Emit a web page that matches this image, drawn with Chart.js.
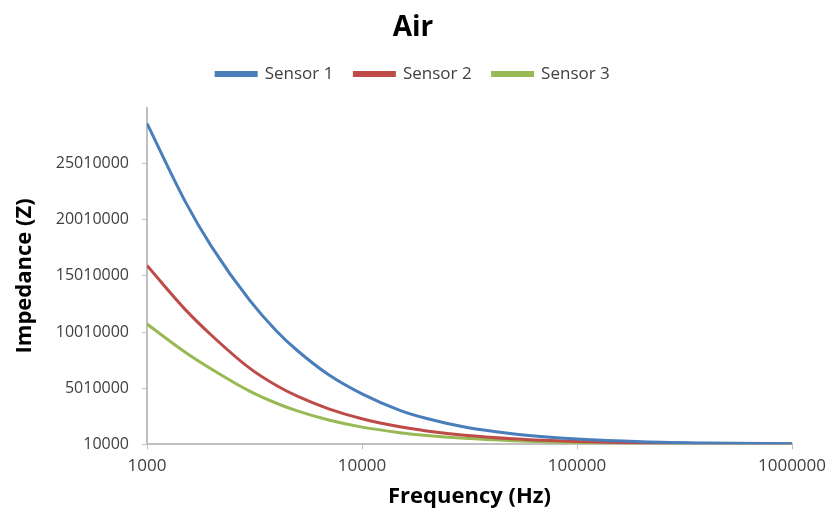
<!DOCTYPE html>
<html>
<head>
<meta charset="utf-8">
<script src="https://cdn.jsdelivr.net/npm/chart.js@4"></script>
<style>
  body { margin:0; background:#fff; }
  #wrap { width:827px; height:509px; }
</style>
</head>
<body>
<div id="wrap"><canvas id="grafica" width="827" height="509"></canvas></div>
<script>
// frecuencias (Hz) y valores
const frecuencias = [1000,1500,2000,3000,4000,5000,7000,10000,15000,20000,30000,50000,70000,100000,200000,400000,1000000];
const sensor1 = [28600000,21700000,17600000,12850000,10100000,8360000,6200000,4500000,3030000,2300000,1550000,940000,670000,470000,236000,118000,47000];
const sensor2 = [15940000,12050000,9700000,6790000,5240000,4290000,3160000,2275000,1560000,1190000,810000,496000,358000,252000,127000,63500,25400];
const sensor3 = [10720000,8230000,6690000,4740000,3660000,2980000,2160000,1530000,1040000,785000,530000,320000,230000,160000,80000,40000,16000];
const nombres = ["Sensor 1","Sensor 2","Sensor 3"];
const colores = ["#4a7ebb","#be4b48","#98b954"];
const ticksX = [1000,10000,100000,1000000];
const ticksY = [10000,5010000,10010000,15010000,20010000,25010000];

const series = [sensor1, sensor2, sensor3];
const FUENTE = "'Open Sans', Lato, sans-serif";

// espacio extra debajo de la leyenda
const espacioLeyenda = {
    id:"espacioLeyenda",
    beforeInit(chart){
        const fitOriginal = chart.legend.fit;
        chart.legend.fit = function(){
            fitOriginal.bind(chart.legend)();
            this.height += 15;
        };
    }
};

new Chart(document.getElementById("grafica"),{
    type:"line",
    data:{
        datasets: series.map((s,i)=>({
            label: nombres[i],
            data: frecuencias.map((f,j)=>({x:f, y:s[j]})),
            borderColor: colores[i],
            backgroundColor: colores[i],
            borderWidth: 3,
            pointRadius: 0,
            cubicInterpolationMode: "monotone",
            fill: false
        }))
    },
    plugins:[espacioLeyenda],
    options:{
        responsive:false,
        animation:false,
        layout:{ padding:{ left:27, right:28, top:4, bottom:0 } },
        plugins:{
            title:{
                display:true, text:"Air", color:"#000",
                font:{ family:FUENTE, size:28, weight:"bold" },
                padding:{ top:7, bottom:0 }
            },
            legend:{
                position:"top",
                labels:{
                    boxWidth:40, boxHeight:3, color:"#404040",
                    font:{ family:FUENTE, size:17 },
                    padding:21
                }
            },
            tooltip:{ enabled:false }
        },
        scales:{
            x:{
                type:"logarithmic",
                min:1000, max:1000000,
                afterBuildTicks: ax => { ax.ticks = ticksX.map(v=>({value:v})); },
                afterFit: ax => { ax.paddingRight = 35; },
                ticks:{ color:"#404040", font:{ family:FUENTE, size:17 }, maxRotation:0, padding:7,
                        callback: v => String(v) },
                grid:{ drawOnChartArea:false, drawTicks:true, tickLength:5, color:"#bfbfbf" },
                border:{ color:"#bfbfbf", width:2 },
                title:{ display:true, text:"Frequency (Hz)", color:"#000",
                        font:{ family:FUENTE, size:22, weight:"bold" }, padding:{ top:0, bottom:-1 } }
            },
            y:{
                type:"linear",
                min:10000, max:30010000,
                afterBuildTicks: ax => { ax.ticks = ticksY.map(v=>({value:v})); },
                afterFit: ax => { ax.width = 120; },
                ticks:{ color:"#404040", font:{ family:FUENTE, size:16 }, padding:13,
                        callback: v => String(v) },
                grid:{ drawOnChartArea:false, drawTicks:true, tickLength:5, color:"#bfbfbf" },
                border:{ color:"#bfbfbf", width:2 },
                title:{ display:true, text:"Impedance (Z)", color:"#000",
                        font:{ family:FUENTE, size:22, weight:"bold" }, padding:{ top:-15, bottom:0 } }
            }
        }
    }
});
</script>
</body>
</html>
